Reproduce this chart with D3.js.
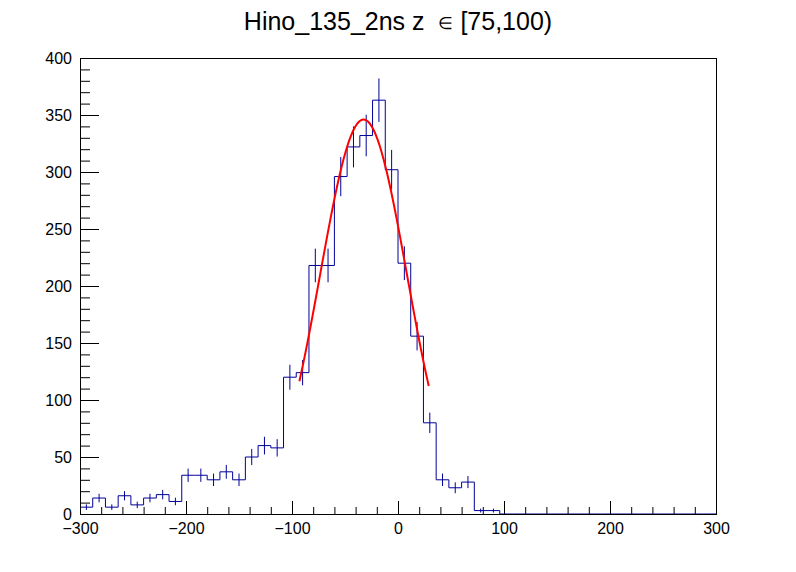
<!DOCTYPE html>
<html>
<head>
<meta charset="utf-8">
<script src="https://cdn.jsdelivr.net/npm/d3@7"></script>
<style>
  body { margin: 0; background: #fff; }
  text { font-family: "Liberation Sans", Arial, Helvetica, sans-serif; }
</style>
</head>
<body>
<div class="chart"></div>
<script>
var width = 796;
var height = 572;

// histogram: 50 bins of width 12 from -300 to 300
var binStart = -300;
var binWidth = 12;
var counts = [6, 14, 6, 16, 8, 14, 17, 11, 34, 34,
              30, 37, 30, 50, 60, 58, 120, 124, 218, 218,
              296, 322, 332, 363, 302, 220, 156, 80, 30, 23,
              28, 3, 3, 0, 0, 0, 0, 0, 0, 0,
              0, 0, 0, 0, 0, 0, 0, 0, 0, 0];

// gaussian fit parameters and range
var fitConst = 346;
var fitMean = -32.5;
var fitSigma = 41;
var fitRange = [-93, 29];

var xTicks = [-300, -200, -100, 0, 100, 200, 300];
var yTicks = [0, 50, 100, 150, 200, 250, 300, 350, 400];

var margin = {left: 80, right: 80, top: 58, bottom: 58};

var svg = d3.select('.chart')
  .append('svg')
  .attr('width', width)
  .attr('height', height);

svg.append('rect')
  .attr('width', width)
  .attr('height', height)
  .attr('fill', 'white');

var x = d3.scaleLinear().domain([-300, 300]).range([margin.left, width - margin.right]);
var y = d3.scaleLinear().domain([0, 400]).range([height - margin.bottom, margin.top]);

var bins = counts.map(function(c, i) {
  var lo = binStart + i * binWidth;
  return {lo: lo, hi: lo + binWidth, mid: lo + binWidth / 2, n: c};
});

// x axis, ticks pointing up into the frame
var xAxis = svg.append('g')
  .attr('transform', 'translate(0,' + y(0) + ')')
  .call(d3.axisBottom(x).tickValues(xTicks).tickSize(-13).tickPadding(9)
    .tickFormat(function(d) { return d < 0 ? '\u2212' + Math.abs(d) : d; }));
xAxis.select('.domain').remove();

var xMinor = svg.append('g')
  .attr('transform', 'translate(0,' + y(0) + ')')
  .call(d3.axisBottom(x).tickValues(d3.range(-300, 301, 20)).tickSize(-7).tickFormat(''));
xMinor.select('.domain').remove();

// y axis, ticks pointing right into the frame
var yAxis = svg.append('g')
  .attr('transform', 'translate(' + x(-300) + ',0)')
  .call(d3.axisLeft(y).tickValues(yTicks).tickSize(-19).tickPadding(8));
yAxis.select('.domain').remove();

var yMinor = svg.append('g')
  .attr('transform', 'translate(' + x(-300) + ',0)')
  .call(d3.axisLeft(y).tickValues(d3.range(0, 401, 10)).tickSize(-10).tickFormat(''));
yMinor.select('.domain').remove();

svg.selectAll('.tick text')
  .attr('font-size', 16)
  .attr('fill', 'black');
svg.selectAll('.tick line').attr('stroke', 'black');

// step outline
var stepPts = [];
bins.forEach(function(b) {
  stepPts.push([x(b.lo), y(b.n)]);
  stepPts.push([x(b.hi), y(b.n)]);
});
svg.append('path')
  .attr('d', d3.line()(stepPts))
  .attr('fill', 'none')
  .attr('stroke', '#000099')
  .attr('stroke-width', 1);

// error bars
svg.selectAll('.err')
  .data(bins.filter(function(b) { return b.n > 0; }))
  .enter().append('line')
  .attr('class', 'err')
  .attr('x1', function(d) { return x(d.mid); })
  .attr('x2', function(d) { return x(d.mid); })
  .attr('y1', function(d) { return y(d.n - Math.sqrt(d.n)); })
  .attr('y2', function(d) { return y(d.n + Math.sqrt(d.n)); })
  .attr('stroke', '#000099')
  .attr('stroke-width', 1);

// fit curve
var fitX = d3.range(0, 101).map(function(i) {
  return fitRange[0] + (fitRange[1] - fitRange[0]) * i / 100;
});
svg.append('path')
  .datum(fitX)
  .attr('d', d3.line()
    .x(function(d) { return x(d); })
    .y(function(d) { return y(fitConst * Math.exp(-0.5 * Math.pow((d - fitMean) / fitSigma, 2))); }))
  .attr('fill', 'none')
  .attr('stroke', 'red')
  .attr('stroke-width', 2);

// frame
svg.append('rect')
  .attr('x', x(-300) + 0.5)
  .attr('y', y(400) + 0.5)
  .attr('width', x(300) - x(-300))
  .attr('height', y(0) - y(400))
  .attr('fill', 'none')
  .attr('stroke', 'black')
  .attr('stroke-width', 1);

// title
var title = svg.append('text')
  .attr('x', width / 2)
  .attr('y', 30)
  .attr('text-anchor', 'middle')
  .attr('font-size', 25);
title.append('tspan').text('Hino_135_2ns z \u00a0');
title.append('tspan').attr('font-size', 17).attr('dy', -1).text('\u2208');
title.append('tspan').attr('dy', 1).text(' [75,100)');
</script>
</body>
</html>
